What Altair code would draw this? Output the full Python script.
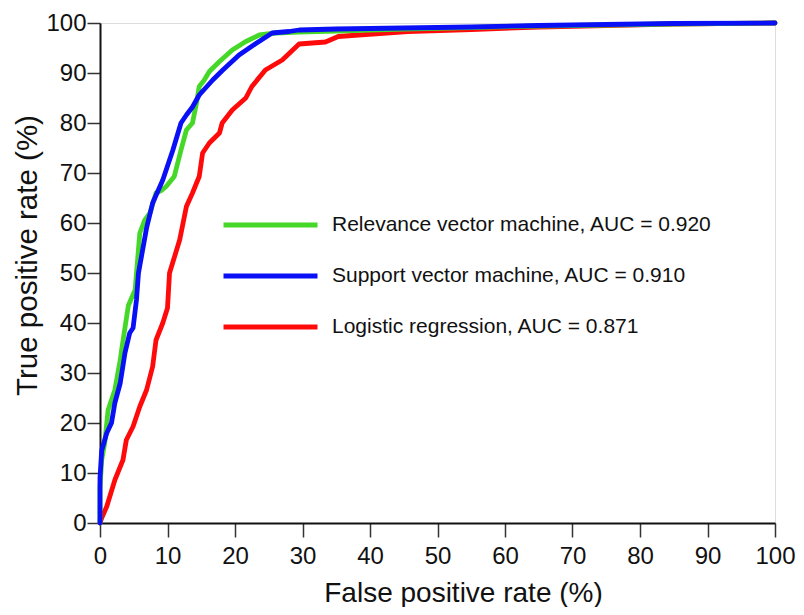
import altair as alt
import pandas as pd

series_names = [
    "Relevance vector machine, AUC = 0.920",
    "Support vector machine, AUC = 0.910",
    "Logistic regression, AUC = 0.871",
]
series_colors = ["#46d828", "#0a10f5", "#ff0a0a"]

rvm_x = [0, 0, 0.25, 0.7, 1.2, 2.2, 3.0, 3.2, 4.2, 5.2, 5.9, 6.6, 7.4, 8.3, 9.2, 9.8, 11.0, 12.0,
         12.8, 13.7, 14.3, 14.7, 15.4, 16.2, 17.7, 19.6, 21.6, 23.6, 26, 29.5, 35, 45, 55, 65, 75, 85, 100]
rvm_y = [0, 7, 12.6, 16, 22.6, 26.6, 32.6, 34.6, 43.5, 46.6, 58, 60.5, 62, 66, 66.6, 67.3, 69.3, 74.6,
         78.6, 80, 84, 87.3, 88.5, 90.3, 92.3, 94.6, 96.3, 97.6, 98, 98.2, 98.4, 98.8, 99.1, 99.4, 99.6, 99.8, 100]

svm_x = [0, 0, 0.25, 1.0, 1.7, 2.2, 3.0, 3.7, 4.4, 4.9, 5.4, 5.7, 6.9, 7.8, 9.3, 10.8, 12.0, 12.8,
         13.7, 14.7, 16.7, 18.2, 20.6, 23.1, 25.5, 28, 29.5, 35, 45, 55, 65, 75, 85, 100]
svm_y = [0, 9, 14.5, 18, 20, 24, 28, 34, 38, 39, 44.6, 50, 59, 64, 68.6, 74.6, 80, 81.6,
         83.2, 85.6, 88.6, 90.6, 93.6, 95.9, 98, 98.3, 98.6, 98.8, 99.0, 99.2, 99.5, 99.7, 99.9, 100]

lr_x = [0, 0.25, 1.0, 2.2, 3.4, 3.9, 4.9, 5.9, 6.9, 7.8, 8.3, 9.3, 10.0, 10.3, 11.8, 12.8, 13.7, 14.7,
        15.2, 16.2, 17.7, 18.1, 19.6, 21.6, 22.5, 24.5, 27, 29.5, 33.4, 35.3, 38.3, 45.6, 55, 65, 75, 85, 100]
lr_y = [0, 1, 3.3, 8.6, 12.6, 16.6, 19.3, 23.3, 26.6, 31.3, 36.6, 40, 43, 50, 56.6, 63.3, 66, 69.3,
        74, 76, 78, 80, 82.6, 85, 87.3, 90.6, 92.6, 95.8, 96.2, 97.3, 97.6, 98.3, 98.7, 99.2, 99.5, 99.8, 100]

axis_ticks = [0, 10, 20, 30, 40, 50, 60, 70, 80, 90, 100]

rows = []
for name, xs, ys in [(series_names[2], lr_x, lr_y), (series_names[0], rvm_x, rvm_y), (series_names[1], svm_x, svm_y)]:
    for i, (xv, yv) in enumerate(zip(xs, ys)):
        rows.append({"series": name, "fpr": xv, "tpr": yv, "idx": i})
df = pd.DataFrame(rows)

FONT = "Liberation Sans"

chart = alt.Chart(df).mark_line(strokeWidth=4.8, strokeJoin="round", strokeCap="round").encode(
    x=alt.X("fpr:Q",
            scale=alt.Scale(domain=[0, 100], nice=False),
            axis=alt.Axis(values=axis_ticks, title="False positive rate (%)", grid=False,
                          domainColor="#111", domainWidth=2, tickColor="#333", tickWidth=1.5,
                          tickSize=14, labelPadding=7, labelFontSize=24, labelFont=FONT,
                          labelColor="#111", titleFont=FONT, titleFontSize=28,
                          titleFontWeight="normal", titleColor="#111",
                          titleX=363, titleY=78, titleBaseline="alphabetic", labelFlush=False)),
    y=alt.Y("tpr:Q",
            scale=alt.Scale(domain=[0, 100], nice=False),
            axis=alt.Axis(values=axis_ticks, title="True positive rate (%)", grid=False,
                          domainColor="#111", domainWidth=2, tickColor="#333", tickWidth=1.5,
                          tickSize=13, labelPadding=1, labelFontSize=24, labelFont=FONT,
                          labelColor="#111", titleFont=FONT, titleFontSize=29.5,
                          titleFontWeight="normal", titleColor="#111",
                          titleX=-73, titleY=232, titleBaseline="middle", labelFlush=False)),
    color=alt.Color("series:N",
                    scale=alt.Scale(domain=series_names, range=series_colors),
                    legend=alt.Legend(orient="none", legendX=121, legendY=187, title=None,
                                      symbolType="stroke", symbolSize=8836, symbolStrokeWidth=5,
                                      labelFontSize=21, labelFont=FONT, labelColor="#111",
                                      labelOffset=12, clipHeight=30, rowPadding=21, padding=0,
                                      labelLimit=600)),
    order=alt.Order("idx:Q"),
).properties(
    width=675, height=500,
    autosize=alt.AutoSizeParams(type="none"),
    padding={"left": 92, "top": 15, "right": 21, "bottom": 84},
).configure_view(
    stroke="#111", strokeWidth=2
).configure(background="white")

chart.save("out.html", embed_options={"renderer": "svg", "actions": False})
